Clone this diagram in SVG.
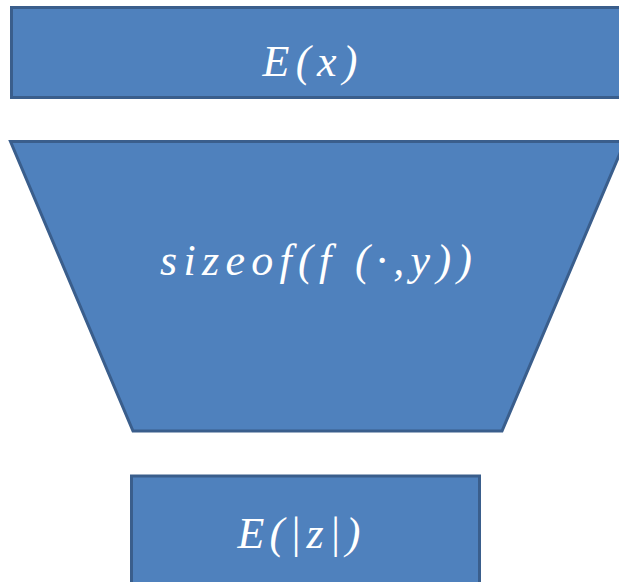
<svg xmlns="http://www.w3.org/2000/svg" width="619" height="582" viewBox="0 0 619 582">
<style>
.shape{fill:#4f81bd;stroke:#3a5e8c;stroke-width:3;stroke-linejoin:miter}
.lbl{fill:#ffffff;font-family:"Liberation Serif","DejaVu Serif",serif;font-style:italic;font-size:44px;text-anchor:middle}
</style>
<rect width="619" height="582" fill="#ffffff"/>
<g id="top">
<rect class="shape" x="11.5" y="7.5" width="620" height="90"/>
<text class="lbl" x="310" y="76" textLength="95" lengthAdjust="spacing">E(x)</text>
</g>
<g id="funnel">
<polygon class="shape" points="10.5,141.5 625,141.5 502,431 133,431"/>
<text class="lbl" x="316" y="275" textLength="312" lengthAdjust="spacing">sizeof(f (·,y))</text>
</g>
<g id="bottom">
<rect class="shape" x="131.5" y="476" width="348" height="120"/>
<text class="lbl" x="299" y="548" textLength="123" lengthAdjust="spacing">E(|z|)</text>
</g>
<g id="connectors"/>
</svg>
